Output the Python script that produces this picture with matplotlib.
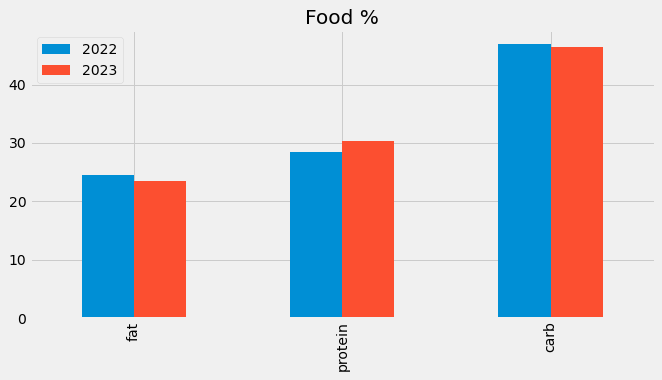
import pandas as pd
import matplotlib
matplotlib.use("Agg")
import matplotlib.pyplot as plt

plt.style.use('fivethirtyeight')

nutrients = ['fat', 'protein', 'carb']
y2022 = [24.5, 28.5, 47.0]
y2023 = [23.5, 30.3, 46.4]

df = pd.DataFrame({'2022': y2022, '2023': y2023}, index=nutrients)

fig, ax = plt.subplots(figsize=(662 / 72, 380 / 72), dpi=72)
df.plot.bar(ax=ax)
ax.set_title('Food %')
ax.legend(loc='upper left')
fig.subplots_adjust(left=0.045, right=0.989, top=0.921, bottom=0.163)

plt.savefig('out.png')
